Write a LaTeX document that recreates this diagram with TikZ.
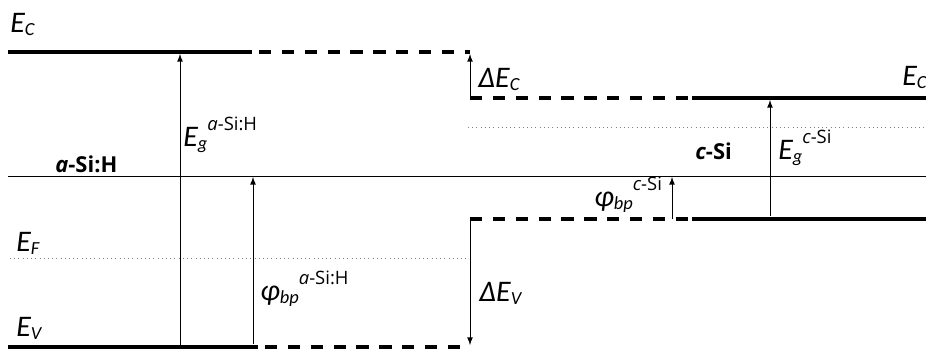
\documentclass[tikz,border=0pt]{standalone}
\usepackage{fontspec}
\setmainfont{Carlito}
\newfontfamily\tagfont{Open Sans}
\usetikzlibrary{arrows}
\tikzstyle{band} = [line width=2.2pt]
\tikzstyle{offset} = [line width=2.2pt, dash pattern=on 7pt off 6pt]
\tikzstyle{mid} = [line width=0.5pt]
\tikzstyle{fermi} = [line width=0.4pt, dotted, gray]
\tikzstyle{edge} = [line width=0.5pt, ->, >=latex]
\tikzstyle{lbl} = [inner sep=0pt, anchor=base west, font=\fontsize{17}{20}\selectfont\itshape]
\tikzstyle{mat} = [inner sep=0pt, anchor=base west, font=\tagfont\fontsize{12.5}{14}\selectfont\bfseries]
\newcommand{\lowtext}[1]{\raisebox{-0.25ex}{\fontsize{10.5}{12}\selectfont\itshape #1}}
\newcommand{\hightext}[1]{\raisebox{1.1ex}{\tagfont\fontsize{10.5}{12}\selectfont\upshape #1}}

\begin{document}
\begin{tikzpicture}[x=0.02cm, y=-0.02cm]
\useasboundingbox (0,0) rectangle (926,349);

% band edge coordinates
\coordinate (ECa) at (8,52);
\coordinate (ECa-end) at (252,52);
\coordinate (ECa-off) at (470,52);
\coordinate (EVa) at (8,347);
\coordinate (EVa-end) at (258,347);
\coordinate (EVa-off) at (470,347);
\coordinate (ECc-off) at (470,98);
\coordinate (ECc) at (692,98);
\coordinate (ECc-end) at (930,98);
\coordinate (EVc-off) at (470,219);
\coordinate (EVc) at (692,219);
\coordinate (EVc-end) at (930,219);
\coordinate (mid-l) at (8,176.5);
\coordinate (mid-r) at (930,176.5);
\coordinate (EF-l) at (10,258);
\coordinate (EF-r) at (470,258);
\coordinate (EFc-l) at (468,127);
\coordinate (EFc-r) at (930,127);

\draw [band] (ECa) -- (ECa-end);
\draw [offset, dash phase=9pt] (ECa-end) -- (ECa-off);
\draw [band] (EVa) -- (EVa-end);
\draw [offset, dash phase=9pt] (EVa-end) -- (EVa-off);
\draw [offset] (ECc-off) -- (ECc);
\draw [band] (ECc) -- (ECc-end);
\draw [offset] (EVc-off) -- (EVc);
\draw [band] (EVc) -- (EVc-end);
\draw [mid] (mid-l) -- (mid-r);
\draw [fermi] (EF-l) -- (EF-r);
\draw [fermi] (EFc-l) -- (EFc-r);

% arrow ends
\coordinate (gapa-b) at (180,346);
\coordinate (gapa-t) at (180,54);
\coordinate (phia-b) at (253,344);
\coordinate (phia-t) at (253,177);
\coordinate (dEC-b) at (470,98);
\coordinate (dEC-t) at (470,54);
\coordinate (dEV-t) at (470,219);
\coordinate (dEV-b) at (470,345);
\coordinate (phic-b) at (672,219);
\coordinate (phic-t) at (672,177);
\coordinate (gapc-b) at (770,216);
\coordinate (gapc-t) at (770,100);

\draw [edge] (gapa-b) -- (gapa-t);
\draw [edge] (phia-b) -- (phia-t);
\draw [edge] (dEC-b) -- (dEC-t);
\draw [edge] (dEV-t) -- (dEV-b);
\draw [edge] (phic-b) -- (phic-t);
\draw [edge] (gapc-b) -- (gapc-t);

% labels
\node (ECa-lbl) [lbl] at (10,32) {E\lowtext{C}};
\node (EF-lbl) [lbl] at (16,251) {E\lowtext{F}};
\node (EV-lbl) [lbl] at (16,336) {E\lowtext{V}};
\node (asi) [mat] at (55,172) {\itshape a\upshape-Si:H};
\node (gapa-lbl) [lbl] at (183,146) {E\lowtext{g}\hightext{\itshape a\upshape-Si:H}};
\node (phia-lbl) [lbl] at (260,300) {φ\lowtext{bp}\hightext{\itshape a\upshape-Si:H}};
\node (dEC-lbl) [lbl] at (478,87) {ΔE\lowtext{C}};
\node (dEV-lbl) [lbl] at (479,301) {ΔE\lowtext{V}};
\node (ECc-lbl) [lbl] at (902,85) {E\lowtext{C}};
\node (csi) [mat] at (695,159) {\itshape c\upshape-Si};
\node (gapc-lbl) [lbl] at (778,159) {E\lowtext{g}\hightext{\itshape c\upshape-Si}};
\node (phic-lbl) [lbl] at (594,206) {φ\lowtext{bp}\hightext{\itshape c\upshape-Si}};

\end{tikzpicture}
\end{document}
